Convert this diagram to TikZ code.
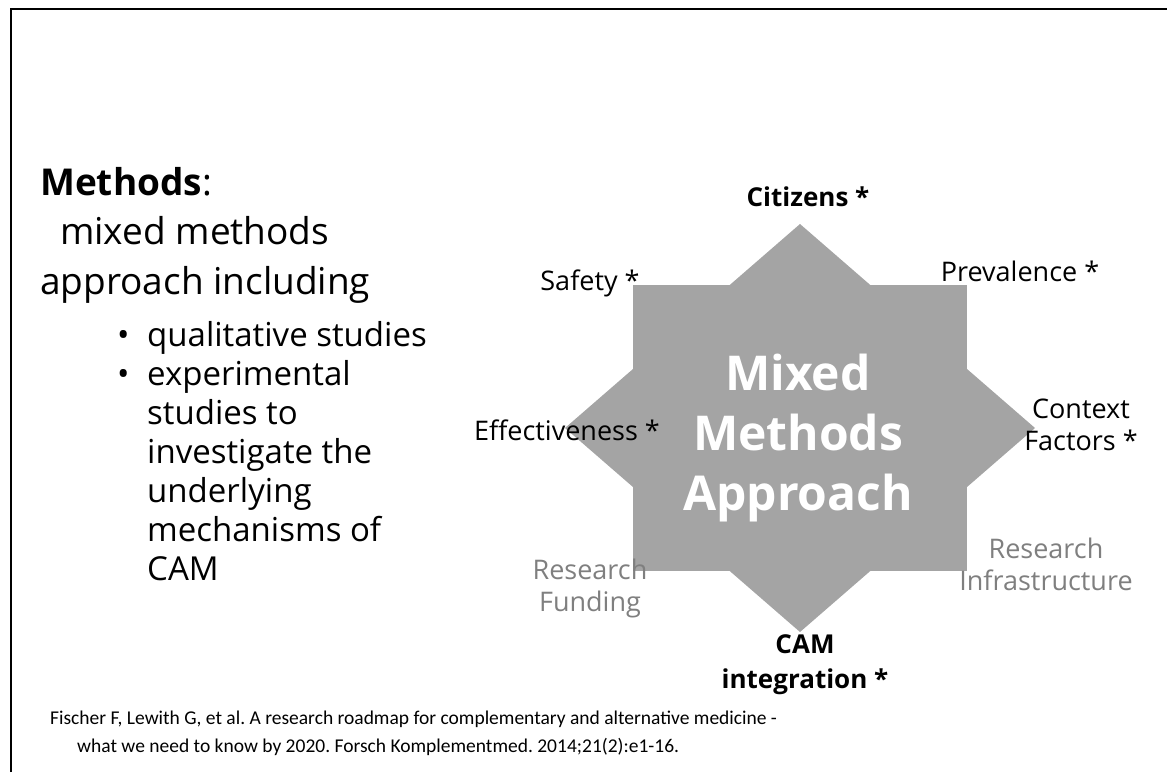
\documentclass[tikz,border=0pt]{standalone}
\usepackage{fontspec}
\setmainfont{Open Sans}
\newfontfamily\citefont{Carlito}
\definecolor{stargray}{HTML}{A4A4A4}
\definecolor{softgray}{HTML}{7F7F7F}
\frenchspacing

\begin{document}
\begin{tikzpicture}[x=1pt,y=-1pt,
    txt/.style={inner sep=0pt,anchor=base west},
    big/.style={txt,font=\fontsize{37}{44}\selectfont},
    item/.style={txt,font=\fontsize{33}{39}\selectfont},
    lbl/.style={inner sep=0pt,align=center,font=\fontsize{27}{32}\selectfont},
    key/.style={lbl,font=\fontsize{26}{35}\selectfont\bfseries},
    soft/.style={lbl,text=softgray},
    cite/.style={txt,font=\citefont\fontsize{19.5}{24}\selectfont}]
  \useasboundingbox (0,0) rectangle (1167,772);
  % slide frame
  \draw[line width=1.5pt] (11,772)--(11,9)--(1167,9);

  % left column
  \node[big] (head) at (40,195) {\textbf{Methods}:};
  \node[big] (intro1) at (60,244) {mixed methods};
  \node[big] (intro2) at (40,294) {approach including};
  \node[item] (dot1) at (117,346) {•};
  \node[item] (item1) at (147,346) {qualitative studies};
  \node[item] (dot2) at (117,385) {•};
  \foreach \line [count=\i from 0] in {experimental,studies to,investigate the,underlying,mechanisms of,CAM}
    \node[item] (item2-\i) at (147,385+39*\i) {\line};

  % the star: square + diamond
  \begin{scope}[shift={(800,428)}]
    \fill[stargray] (-167,-143) rectangle (167,143);
    \fill[stargray] (0,-204)--(235,0)--(0,204)--(-235,0)--cycle;
  \end{scope}
  \node[white,align=center,font=\fontsize{48}{60}\selectfont\bfseries] (core) at (798,438) {Mixed\\Methods\\Approach};

  % labels round the star
  \node[key] (citizens) at (808,197) {Citizens *};
  \node[lbl] (safety) at (590,283) {Safety *};
  \node[lbl] (prevalence) at (1020,271) {Prevalence *};
  \node[lbl] (context) at (1081,425) {Context\\Factors *};
  \node[lbl] (effect) at (567,430) {Effectiveness *};
  \node[soft] (funding) at (590,588) {Research\\Funding};
  \node[soft] (infra) at (1046,564) {Research\\Infrastructure};
  \node[key] (integration) at (805,665) {CAM\\integration *};

  % reference
  \node[cite] (ref1) at (50,724) {Fischer F, Lewith G, et al. A research roadmap for complementary and alternative medicine -};
  \node[cite] (ref2) at (77,752) {what we need to know by 2020. Forsch Komplementmed. 2014;21(2):e1-16.};
\end{tikzpicture}
\end{document}
